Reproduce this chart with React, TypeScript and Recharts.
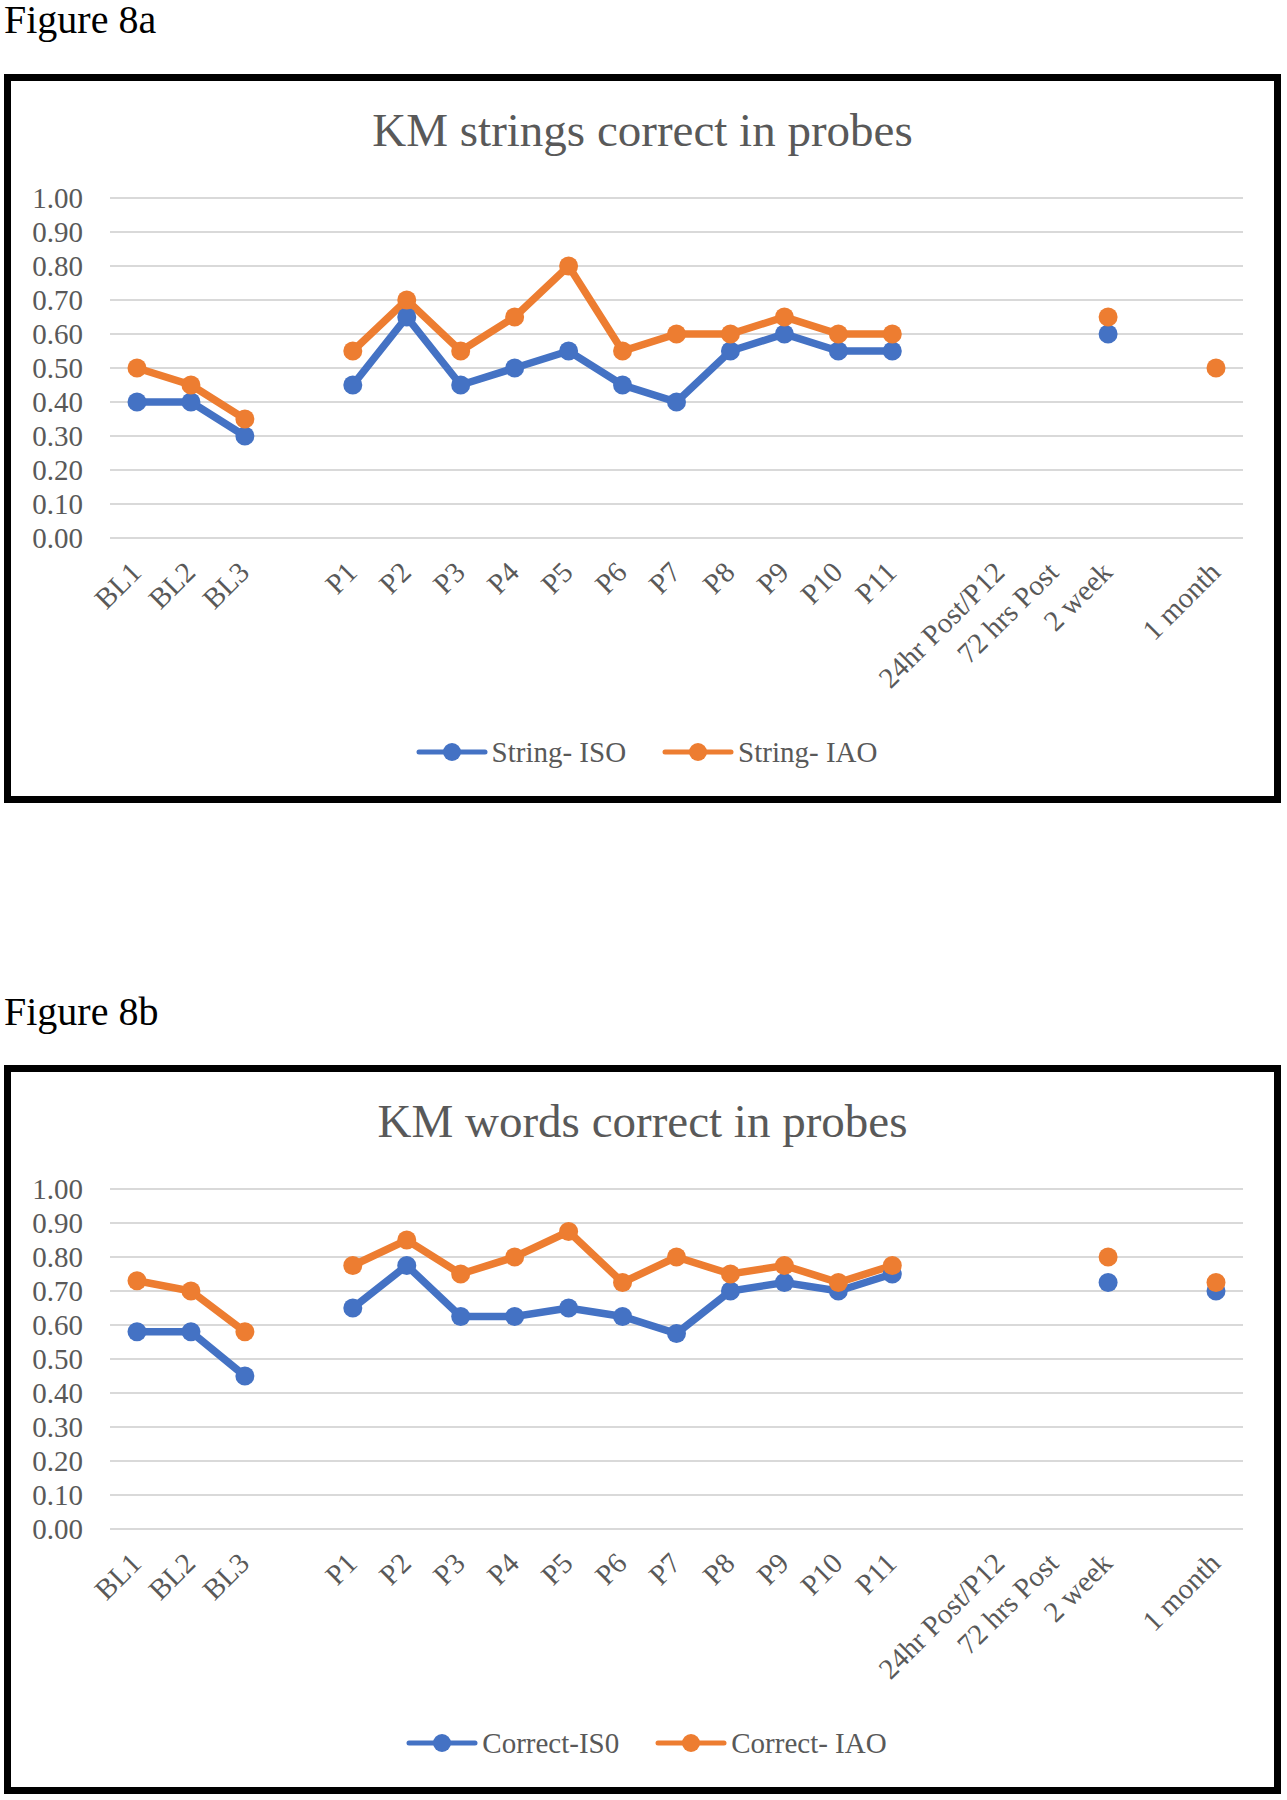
import React from 'react';
import { LineChart, Line, XAxis, YAxis, CartesianGrid, Legend } from 'recharts';

const categories = ['BL1', 'BL2', 'BL3', '', 'P1', 'P2', 'P3', 'P4', 'P5', 'P6', 'P7', 'P8', 'P9', 'P10', 'P11', '', '24hr Post/P12', '72 hrs Post', '2 week', '', '1 month'];
const yTicks = [0, 0.1, 0.2, 0.3, 0.4, 0.5, 0.6, 0.7, 0.8, 0.9, 1.0];

const stringISO = [0.40, 0.40, 0.30, null, 0.45, 0.65, 0.45, 0.50, 0.55, 0.45, 0.40, 0.55, 0.60, 0.55, 0.55, null, null, null, 0.60, null, null];
const stringIAO = [0.50, 0.45, 0.35, null, 0.55, 0.70, 0.55, 0.65, 0.80, 0.55, 0.60, 0.60, 0.65, 0.60, 0.60, null, null, null, 0.65, null, 0.50];
const correctISO = [0.58, 0.58, 0.45, null, 0.65, 0.775, 0.625, 0.625, 0.65, 0.625, 0.575, 0.70, 0.725, 0.70, 0.75, null, null, null, 0.725, null, 0.70];
const correctIAO = [0.73, 0.70, 0.58, null, 0.775, 0.85, 0.75, 0.80, 0.875, 0.725, 0.80, 0.75, 0.775, 0.725, 0.775, null, null, null, 0.80, null, 0.725];

const BLUE = '#4472C4';
const ORANGE = '#ED7D31';
const GRAY = '#595959';
const FONT = '"Liberation Serif", "Times New Roman", serif';

const W = 1287;
const BOX_H = 729;

function buildData(a: (number | null)[], b: (number | null)[]) {
  return categories.map((c, i) => ({ cat: i, a: a[i], b: b[i] }));
}

const XTick = (props: any) => {
  const { x, y, payload } = props;
  const label = categories[payload.value] ?? '';
  return (
    <g transform={`translate(${x + 6},${y + 36})`}>
      <text textAnchor="end" transform="rotate(-45)" fill={GRAY} fontSize={29} fontFamily={FONT}>
        {label}
      </text>
    </g>
  );
};

const LegendIcon = ({ color }: { color: string }) => (
  <svg width={72} height={22} style={{ display: 'block' }}>
    <line x1={3} y1={11} x2={69} y2={11} stroke={color} strokeWidth={5} strokeLinecap="round" />
    <circle cx={36} cy={11} r={9} fill={color} />
  </svg>
);

function makeLegend(names: string[]) {
  const colors = [BLUE, ORANGE];
  return () => (
    <div style={{ display: 'flex', justifyContent: 'center', alignItems: 'center', paddingLeft: 6, height: 40 }}>
      {names.map((n, i) => (
        <div key={n} style={{ display: 'flex', alignItems: 'center', marginLeft: i === 0 ? 0 : 36 }}>
          <LegendIcon color={colors[i]} />
          <span style={{ marginLeft: 4, fontSize: 29, color: GRAY, fontFamily: FONT, lineHeight: '40px' }}>{n}</span>
        </div>
      ))}
    </div>
  );
}

function Figure({ label, labelTop, boxTop, title, s1, s2, names }: any) {
  const data = buildData(s1, s2);
  return (
    <>
      <div style={{ position: 'absolute', left: 4, top: labelTop, fontSize: 40, lineHeight: '40px', color: '#000', fontFamily: FONT, whiteSpace: 'nowrap' }}>
        {label}
      </div>
      <div style={{ position: 'absolute', left: 4, top: boxTop, width: 1277, height: BOX_H, border: '7px solid #000', boxSizing: 'border-box', background: '#fff' }} />
      <div style={{ position: 'absolute', left: 4, top: boxTop + 33, width: 1277, textAlign: 'center', fontSize: 47, lineHeight: '46px', color: GRAY, fontFamily: FONT, whiteSpace: 'nowrap' }}>
        {title}
      </div>
      <div style={{ position: 'absolute', left: 0, top: boxTop, width: W, height: BOX_H }}>
        <LineChart width={W} height={BOX_H} data={data} margin={{ top: 124, right: 44, left: 10, bottom: 0 }}>
          <CartesianGrid vertical={false} stroke="#d9d9d9" strokeWidth={2} />
          <XAxis
            dataKey="cat"
            type="category"
            interval={0}
            padding={{ left: 27, right: 27 }}
            height={BOX_H - 124 - 340}
            tickLine={false}
            tickSize={0}
            tickMargin={0}
            axisLine={{ stroke: '#d9d9d9', strokeWidth: 2 }}
            tick={<XTick />}
          />
          <YAxis
            domain={[0, 1]}
            ticks={yTicks}
            interval={0}
            width={100}
            axisLine={false}
            tickLine={false}
            tickSize={0}
            tickMargin={27}
            tickFormatter={(v: number) => v.toFixed(2)}
            tick={{ fill: GRAY, fontSize: 29, fontFamily: FONT }}
          />
          <Legend
            layout="horizontal"
            verticalAlign="middle"
            align="center"
            content={makeLegend(names)}
            wrapperStyle={{ top: 658, left: 0, width: W, height: 40 }}
          />
          <Line dataKey="a" name={names[0]} type="linear" stroke={BLUE} strokeWidth={7.5} connectNulls={false}
            dot={{ r: 9.5, fill: BLUE, stroke: BLUE, strokeWidth: 0 }} activeDot={false} isAnimationActive={false} />
          <Line dataKey="b" name={names[1]} type="linear" stroke={ORANGE} strokeWidth={7.5} connectNulls={false}
            dot={{ r: 9.5, fill: ORANGE, stroke: ORANGE, strokeWidth: 0 }} activeDot={false} isAnimationActive={false} />
        </LineChart>
      </div>
    </>
  );
}

export default function App() {
  return (
    <div style={{ position: 'absolute', left: 0, top: 0, width: W, height: 1800, background: '#fff', fontFamily: FONT }}>
      <Figure label="Figure 8a" labelTop={0} boxTop={74} title="KM strings correct in probes"
        s1={stringISO} s2={stringIAO} names={['String- ISO', 'String- IAO']} />
      <Figure label="Figure 8b" labelTop={992} boxTop={1065} title="KM words correct in probes"
        s1={correctISO} s2={correctIAO} names={['Correct-IS0', 'Correct- IAO']} />
    </div>
  );
}
